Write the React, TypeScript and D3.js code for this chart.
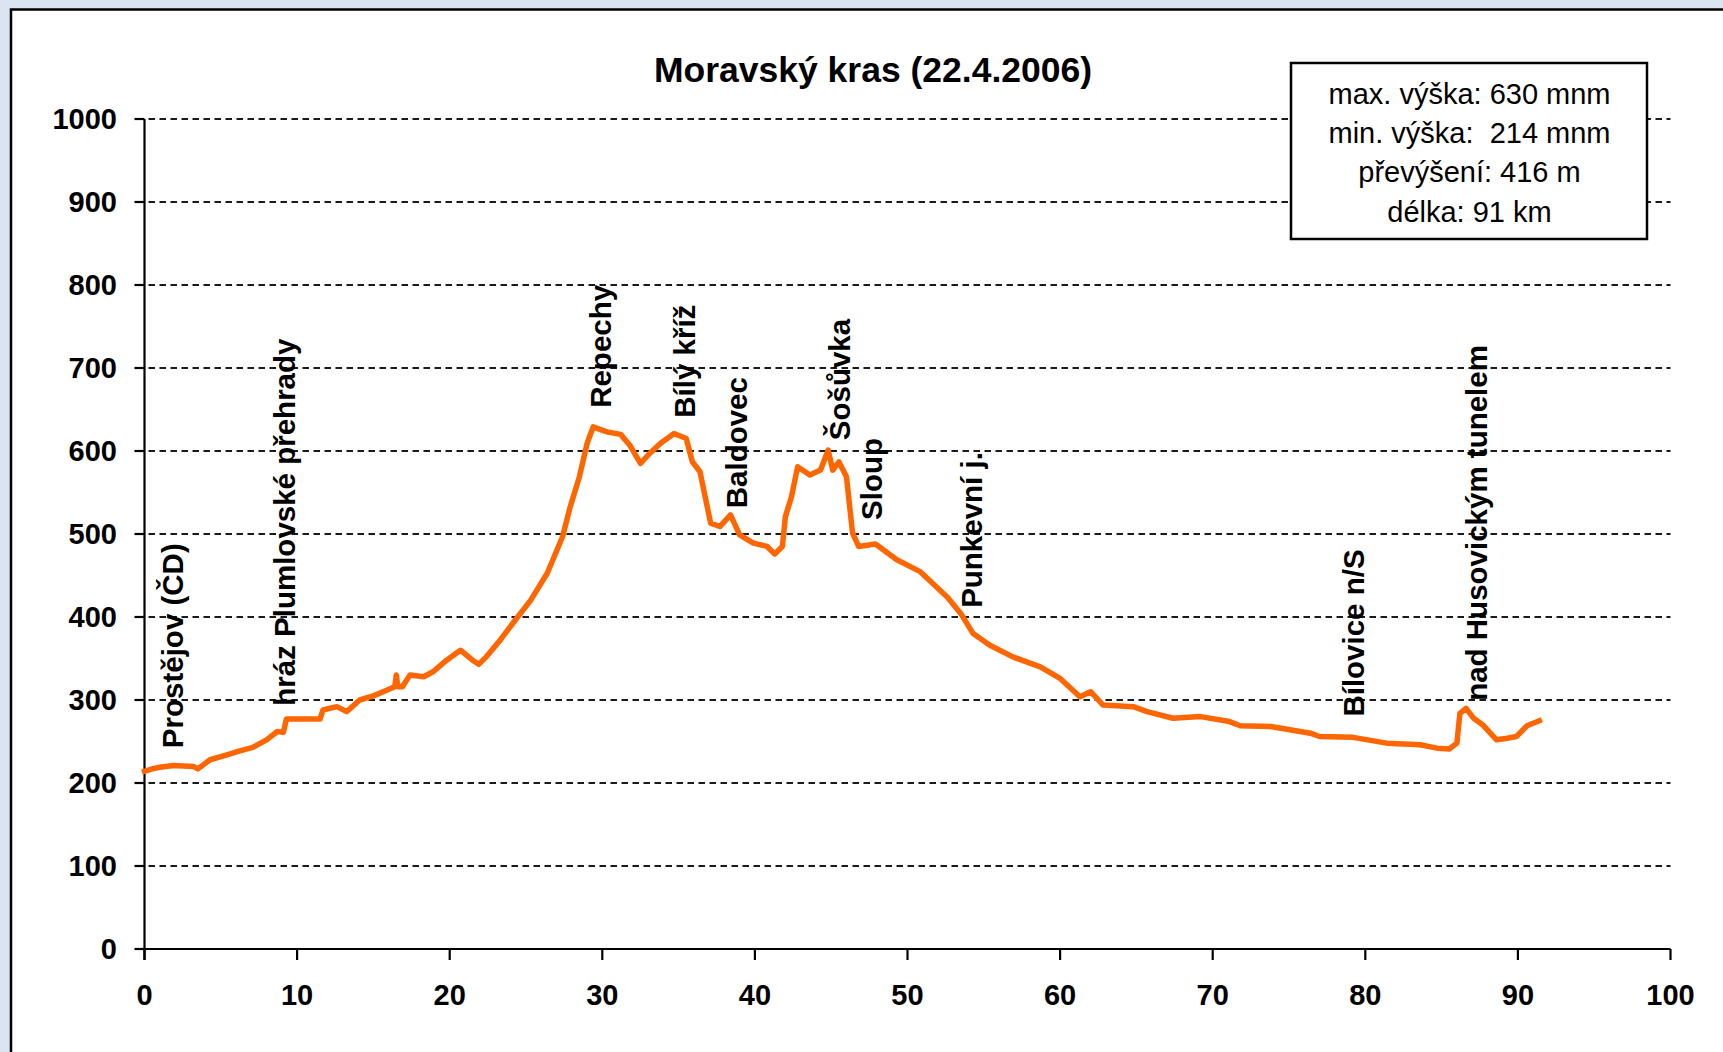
import * as d3 from "d3";

// Profile: distance (km) and altitude (m n. m.)
const KM = [
  0, 0.5, 1.0, 1.9, 3.2, 3.5, 4.3, 5.4, 6.3, 7.1, 8.0, 8.7, 9.1, 9.3, 11.5, 11.7,
  12.6, 13.25, 14.1, 15.0, 15.9, 16.4, 16.5, 16.6, 16.9, 17.4, 18.3, 18.9, 19.8,
  20.7, 21.5, 21.9, 22.4, 23.3, 24.2, 25.3, 26.4, 27.4, 27.9, 28.5, 29.0, 29.4,
  30.3, 31.2, 31.8, 32.5, 33.1, 33.8, 34.7, 35.5, 35.9, 36.4, 37.1, 37.7, 38.4,
  39.0, 39.9, 40.8, 41.3, 41.8, 42.0, 42.4, 42.8, 43.6, 44.3, 44.8, 45.1, 45.5,
  46.0, 46.4, 46.8, 47.9, 49.3, 50.8, 52.6, 53.5, 54.3, 55.4, 56.9, 58.7, 60.0,
  61.3, 62.0, 62.8, 64.8, 65.7, 67.4, 69.2, 71.1, 71.8, 73.8, 76.4, 77.0, 79.2,
  81.4, 83.6, 84.7, 85.5, 86.0, 86.2, 86.6, 87.1, 87.7, 88.6, 89.3, 89.9, 90.6,
  91.4,
];
const ALT = [
  214, 217, 219, 221, 220, 217, 228, 234, 239, 243, 252, 262, 261, 277, 277, 288,
  292, 286, 300, 305, 312, 316, 330, 316, 316, 330, 328, 334, 348,
  360, 348, 343, 352, 372, 394, 420, 453, 497, 533, 569, 609, 629,
  623, 620, 607, 585, 597, 609, 621, 615, 587, 575, 513, 509, 523,
  499, 489, 485, 476, 485, 521, 545, 581, 571, 577, 601, 577, 587,
  569, 501, 485, 488, 469, 455, 424, 404, 380, 366, 352, 340, 326,
  304, 310, 294, 292, 286, 278, 280, 274, 269, 268, 260, 256, 255,
  248, 246, 242, 241, 248, 284, 290, 278, 270, 252, 254, 256, 269,
  275,
];

// Place names: km of text baseline, altitude where text starts
const PLACE_NAMES = [
  "Prostějov (ČD)", "hráz Plumlovské přehrady", "Repechy", "Bílý kříž", "Baldovec",
  "Šošůvka", "Sloup", "Punkevní j.", "Bílovice n/S", "nad Husovickým tunelem",
];
const PLACE_KM = [2.5, 9.85, 30.6, 36.1, 39.5, 46.2, 48.3, 54.9, 79.9, 88.0];
const PLACE_ALT = [242, 293, 652, 640, 531, 613, 517, 411, 280, 299];

const X_TICKS = [0, 10, 20, 30, 40, 50, 60, 70, 80, 90, 100];
const Y_TICKS = [0, 100, 200, 300, 400, 500, 600, 700, 800, 900, 1000];

const TITLE = "Moravský kras (22.4.2006)";
const INFO_LINES = [
  "max. výška: 630 mnm",
  "min. výška:  214 mnm",
  "převýšení: 416 m",
  "délka: 91 km",
];

export default function App() {
  const width = 1723;
  const height = 1052;
  const font = "Arial, 'Liberation Sans', sans-serif";

  const x = d3.scaleLinear().domain([0, 100]).range([144.5, 1670.5]);
  const y = d3.scaleLinear().domain([0, 1000]).range([949, 119]);

  const points = KM.map((k, i) => [k, ALT[i]] as [number, number]);
  const line = d3
    .line<[number, number]>()
    .x((d) => x(d[0]))
    .y((d) => y(d[1]));

  const box = { x: 1291, y: 63, w: 356, h: 176 };

  return (
    <svg
      width={width}
      height={height}
      style={{ position: "absolute", left: 0, top: 0, display: "block" }}
    >
      <rect width={width} height={height} fill="#dbe5f1" />
      <rect
        x={11}
        y={9.5}
        width={width + 20}
        height={height + 20}
        fill="#fff"
        stroke="#000"
        strokeWidth={2.5}
      />

      {/* gridlines */}
      {Y_TICKS.filter((t) => t > 0).map((t) => (
        <line
          key={t}
          x1={x(0)}
          x2={x(100)}
          y1={y(t)}
          y2={y(t)}
          stroke="#1a1a1a"
          strokeWidth={2.2}
          strokeDasharray="6.5,4.5"
          strokeDashoffset={-4}
        />
      ))}

      {/* axes */}
      <line x1={x(0)} x2={x(0)} y1={y(1000)} y2={y(0) + 11} stroke="#000" strokeWidth={2.2} />
      <line x1={x(0)} x2={x(100)} y1={y(0)} y2={y(0)} stroke="#000" strokeWidth={2.2} />
      {Y_TICKS.map((t) => (
        <g key={t}>
          <line x1={x(0) - 10} x2={x(0)} y1={y(t)} y2={y(t)} stroke="#000" strokeWidth={2.2} />
          <text
            x={117}
            y={y(t)}
            dy="0.36em"
            textAnchor="end"
            fontFamily={font}
            fontWeight="bold"
            fontSize={29}
            fill="#000"
          >
            {t}
          </text>
        </g>
      ))}
      {X_TICKS.map((t) => (
        <g key={t}>
          <line x1={x(t)} x2={x(t)} y1={y(0)} y2={y(0) + 11} stroke="#000" strokeWidth={2.2} />
          <text
            x={x(t)}
            y={1005}
            textAnchor="middle"
            fontFamily={font}
            fontWeight="bold"
            fontSize={29}
            fill="#000"
          >
            {t}
          </text>
        </g>
      ))}

      {/* profile */}
      <path
        d={line(points) ?? ""}
        fill="none"
        stroke="#ff6600"
        strokeWidth={5.5}
        strokeLinejoin="round"
        strokeLinecap="square"
      />

      {/* place labels */}
      {PLACE_NAMES.map((name, i) => {
        const px = x(PLACE_KM[i]);
        const py = y(PLACE_ALT[i]);
        return (
          <text
            key={name}
            transform={`translate(${px},${py}) rotate(-90)`}
            fontFamily={font}
            fontWeight="bold"
            fontSize={29.5}
            fill="#000"
          >
            {name}
          </text>
        );
      })}

      {/* title */}
      <text
        x={873}
        y={81.5}
        textAnchor="middle"
        fontFamily={font}
        fontWeight="bold"
        fontSize={35.5}
        fill="#000"
      >
        {TITLE}
      </text>

      {/* info box */}
      <rect
        x={box.x}
        y={box.y}
        width={box.w}
        height={box.h}
        fill="#fff"
        stroke="#000"
        strokeWidth={2.5}
      />
      {INFO_LINES.map((s, i) => (
        <text
          key={i}
          x={1469.5}
          y={103.5 + i * 39.4}
          textAnchor="middle"
          fontFamily={font}
          fontSize={29}
          fill="#000"
          style={{ whiteSpace: "pre" }}
        >
          {s}
        </text>
      ))}
    </svg>
  );
}
